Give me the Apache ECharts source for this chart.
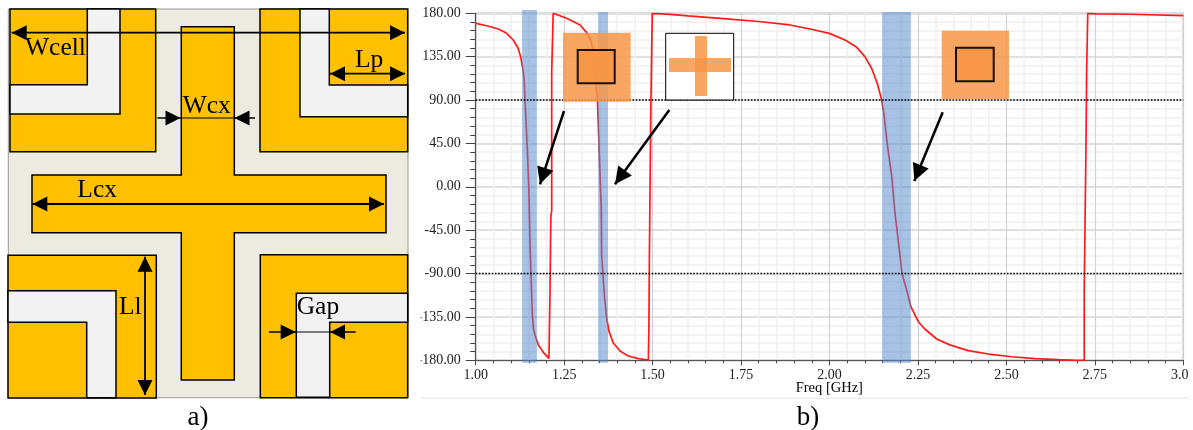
<!DOCTYPE html>
<html><head><meta charset="utf-8">
<style>html,body{margin:0;padding:0;background:#fff}#c{width:1193px;height:430px}</style>
<script src="https://cdn.jsdelivr.net/npm/echarts@6/dist/echarts.min.js"></script>
</head><body><div id="c"></div>
<script>
// ---- data ----
const freqGHz = [1.001,1.031,1.064,1.0876,1.106,1.12,1.127,1.133,1.137,1.139,1.146,1.1506,1.1535,1.16,1.163,1.1676,1.177,1.191,1.207,
  1.21,1.21,1.2125,1.2125,1.2148,1.2148,1.2176,1.219,
  1.257,1.295,1.3137,1.325,1.332,1.338,1.344,1.349,1.355,1.356,1.3635,1.370,1.3768,1.389,1.408,1.431,1.46,1.488,
  1.4895,1.4895,1.491,1.493,1.495,1.499,
  1.55,1.6,1.7,1.8,1.888,1.945,1.9995,2.044,2.077,2.10,2.119,2.135,2.1475,2.154,2.163,2.176,2.185,2.1925,2.205,2.218,2.23,2.251,2.27,2.303,2.34,2.392,2.449,2.515,2.581,2.647,2.699,
  2.72,2.72,2.724,2.725,2.727,2.727,2.73,2.754,2.85,3.00];
const phaseDeg = [169.6,167.1,163.7,159.2,152.3,143.7,135,123,111.5,93.5,38,-7,-60,-132,-146.8,-153.8,-164,-171.7,-178,
  -179,-110,-108,-30,-25,118,120,180,
  174.8,167.9,160,152.3,142,118,90,38,-24,-70.7,-112,-136.4,-150,-162,-170.4,-175.5,-178.3,-179.7,
  -180,-147,-70,7,83,180,
  178.8,177.3,174.5,171.5,167.9,163.7,159.2,152.3,144.7,135,123,107.4,90,75.2,45,10.5,-27,-50,-90,-107,-124.4,-140,-147.8,-157.9,-164,-170,-173.5,-176.3,-178.3,-179.4,-180,
  -180,-107,-105,45,45,124.5,180,179.5,179,177.5];
const bandStart = [1.131,1.346,2.149];
const bandEnd   = [1.173,1.374,2.230];
const bandTop   = [183.4,181.3,181.3];
const bandBottom= [-182.5,-182.5,-182.5];
const referenceLevels = [90,-90];
const xAxisTitle = 'Freq [GHz]';
const panelLabels = ['a)','b)'];
const dimensionLabels = ['Wcell','Lp','Wcx','Lcx','Ll','Gap'];

// ---- drawing helpers ----
const GOLD='#FFC000', PALE='#F2F2F2', BEIGE='#EDEBE0', ORANGE='#F79646';
const g=[];
const poly=(pts,fill,stroke,lw,op)=>g.push({type:'polygon',silent:true,shape:{points:pts},style:{fill:fill,stroke:stroke||null,lineWidth:lw||0,opacity:op==null?1:op,lineJoin:'miter'}});
const rect=(x0,y0,x1,y1,fill,stroke,lw,op)=>poly([[x0,y0],[x1,y0],[x1,y1],[x0,y1]],fill,stroke,lw,op);
const seg=(x0,y0,x1,y1,lw,col)=>g.push({type:'line',silent:true,shape:{x1:x0,y1:y0,x2:x1,y2:y1},style:{stroke:col||'#000',lineWidth:lw}});
function head(xf,yf,xt,yt,len,w){const d=Math.hypot(xt-xf,yt-yf),ux=(xt-xf)/d,uy=(yt-yf)/d;
  const bx=xt-ux*len,by=yt-uy*len;poly([[xt,yt],[bx-uy*w/2,by+ux*w/2],[bx+uy*w/2,by-ux*w/2]],'#000');}
function arrow(x0,y0,x1,y1,lw,len,w){seg(x0,y0,x1,y1,lw);head(x0,y0,x1,y1,len,w);}
function dbl(x0,y0,x1,y1,lw,len,w){seg(x0,y0,x1,y1,lw);head(x0,y0,x1,y1,len,w);head(x1,y1,x0,y0,len,w);}
const txt=(s,x,y,size,align)=>g.push({type:'text',silent:true,x:x,y:y,style:{text:s,fill:'#000',font:size+'px "Liberation Serif"',align:align||'left',verticalAlign:'middle'}});

// ---- panel a) unit-cell diagram ----
rect(8.3,9,408,397.7,BEIGE,'#999',1);
rect(10,9,155.7,151.7,GOLD,'#000',1.5);
poly([[87.3,9],[120,9],[120,114],[10,114],[10,84.7],[87.3,84.7]],PALE,'#000',1.5);
rect(260,9,407.7,151.7,GOLD,'#000',1.5);
poly([[300,9],[329.3,9],[329.3,85],[407.7,85],[407.7,116.7],[300,116.7]],PALE,'#000',1.5);
rect(8,255.3,156.3,398,GOLD,'#000',1.5);
poly([[8,290.7],[116,290.7],[116,397.7],[86.7,397.7],[86.7,322.3],[8,322.3]],PALE,'#000',1.5);
rect(260.3,254.7,407.7,397.7,GOLD,'#000',1.5);
poly([[296.3,293.3],[407.7,293.3],[407.7,322.3],[329.7,322.3],[329.7,397.3],[296.3,397.3]],PALE,'#000',1.5);
poly([[181.3,26.7],[234.3,26.7],[234.3,175],[386,175],[386,232.7],[234.3,232.7],[234.3,380],[181.3,380],[181.3,232.7],[32,232.7],[32,175],[181.3,175]],GOLD,'#000',1.5);
dbl(11.7,32.7,405,32.7,1.8,15,15);
dbl(330,73.7,405,73.7,1.8,15,15);
arrow(157.3,118,180.5,118,1.5,15,15); arrow(255,118,234.5,118,1.5,15,15); seg(180,118,235,118,1.2);
dbl(32.3,204,384,204,1.8,15,15);
dbl(145,256.7,145,395,1.8,15,15);
arrow(269,332,295.7,332,1.5,15,15); arrow(355.7,332,330,332,1.5,15,15); seg(295,332,331,332,1.2);
const [lWcell,lLp,lWcx,lLcx,lLl,lGap]=dimensionLabels;
txt(lWcell,25,48.5,25.5); txt(lLp,355,60,25.5); txt(lWcx,182.7,106.5,25.5); txt(lLcx,77.3,190.5,25.5); txt(lLl,119,307.5,25.5); txt(lGap,296.7,307,25.5);
txt(panelLabels[0],187.5,417.5,27);
txt(panelLabels[1],796.7,417.5,27);

// ---- panel b) annotations ----
rect(410,300,420.7,372,'#fff');
rect(1188,362,1193,385,'#fff');
seg(421,398.3,1189,398.3,1,'#e6e6e6');
txt(xAxisTitle,829.3,388.5,14.5,'center');
rect(563,32.7,630.7,101.7,ORANGE,null,0,.85);
rect(577.7,50,614.7,83.3,ORANGE,'#000',2,.9);
rect(665.7,33.3,733.7,100,'#fff','#000',1);
rect(695,36,707,96,ORANGE,null,0,.85);
rect(669,58,731,72,ORANGE,null,0,.85);
rect(941.7,30.7,1009,99.3,ORANGE,null,0,.85);
rect(956,47.7,993.7,81.3,ORANGE,'#000',2,.9);
arrow(564,111,540,184.3,2.5,17,17);
arrow(669.3,110,615,184.3,2.5,17,17);
arrow(942.7,112.3,914.3,181,2.5,17,17);

const font={fontFamily:'"Liberation Serif"',fontSize:14,color:'#222'};
const chart=echarts.init(document.getElementById('c'),null,{renderer:'canvas'});
chart.setOption({
  animation:false,backgroundColor:'#fff',
  grid:{left:475.7,right:1193-1183.3,top:13.3,bottom:430-360.3,outerBoundsMode:'none',containLabel:false,show:true,backgroundColor:'#fff',borderColor:'#555',borderWidth:1},
  xAxis:{type:'value',min:1,max:3,interval:.25,
    axisLine:{onZero:false,lineStyle:{color:'#555',width:1.2}},
    axisTick:{length:5,inside:false,lineStyle:{color:'#444'}},
    minorTick:{show:true,splitNumber:5,length:3,lineStyle:{color:'#444'}},
    splitLine:{show:true,lineStyle:{color:'#d2d2d2',width:1.2}},
    minorSplitLine:{show:true,lineStyle:{color:'#f0f0f0',width:1.5}},
    axisLabel:Object.assign({margin:8,hideOverlap:false,showMinLabel:true,showMaxLabel:true,formatter:v=>v.toFixed(2)},font)},
  yAxis:{type:'value',min:-180,max:180,interval:45,
    axisLine:{onZero:false,lineStyle:{color:'#555',width:1.2}},
    axisTick:{length:10,lineStyle:{color:'#444'}},
    minorTick:{show:true,splitNumber:5,length:5.5,lineStyle:{color:'#444'}},
    splitLine:{show:true,lineStyle:{color:'#e0e0e0',width:2}},
    minorSplitLine:{show:true,lineStyle:{color:'#f0f0f0',width:1.5}},
    axisLabel:Object.assign({margin:15,hideOverlap:false,showMinLabel:true,showMaxLabel:true,formatter:v=>v.toFixed(2)},font)},
  series:[
    {type:'line',z:2,data:freqGHz.map((f,i)=>[f,phaseDeg[i]]),showSymbol:false,smooth:false,sampling:null,silent:true,
      lineStyle:{color:'#ff1a1a',width:1.7},clip:true},
    {type:'custom',z:3,silent:true,clip:false,
      data:bandStart.map((s,i)=>[s,bandEnd[i],bandTop[i],bandBottom[i]]),
      renderItem:(p,api)=>{const a=api.coord([api.value(0),api.value(2)]),b=api.coord([api.value(1),api.value(3)]);
        return {type:'rect',shape:{x:a[0],y:a[1],width:b[0]-a[0],height:b[1]-a[1]},style:{fill:'rgba(88,138,208,.52)'}};}},
    ...referenceLevels.map(v=>({type:'line',z:4,silent:true,showSymbol:false,data:[[1,v],[3,v]],
      lineStyle:{color:'#000',width:1.6,type:[1.6,1.6]}}))
  ],
  graphic:{elements:g.map(e=>Object.assign({z:100},e))}
});
</script></body></html>
